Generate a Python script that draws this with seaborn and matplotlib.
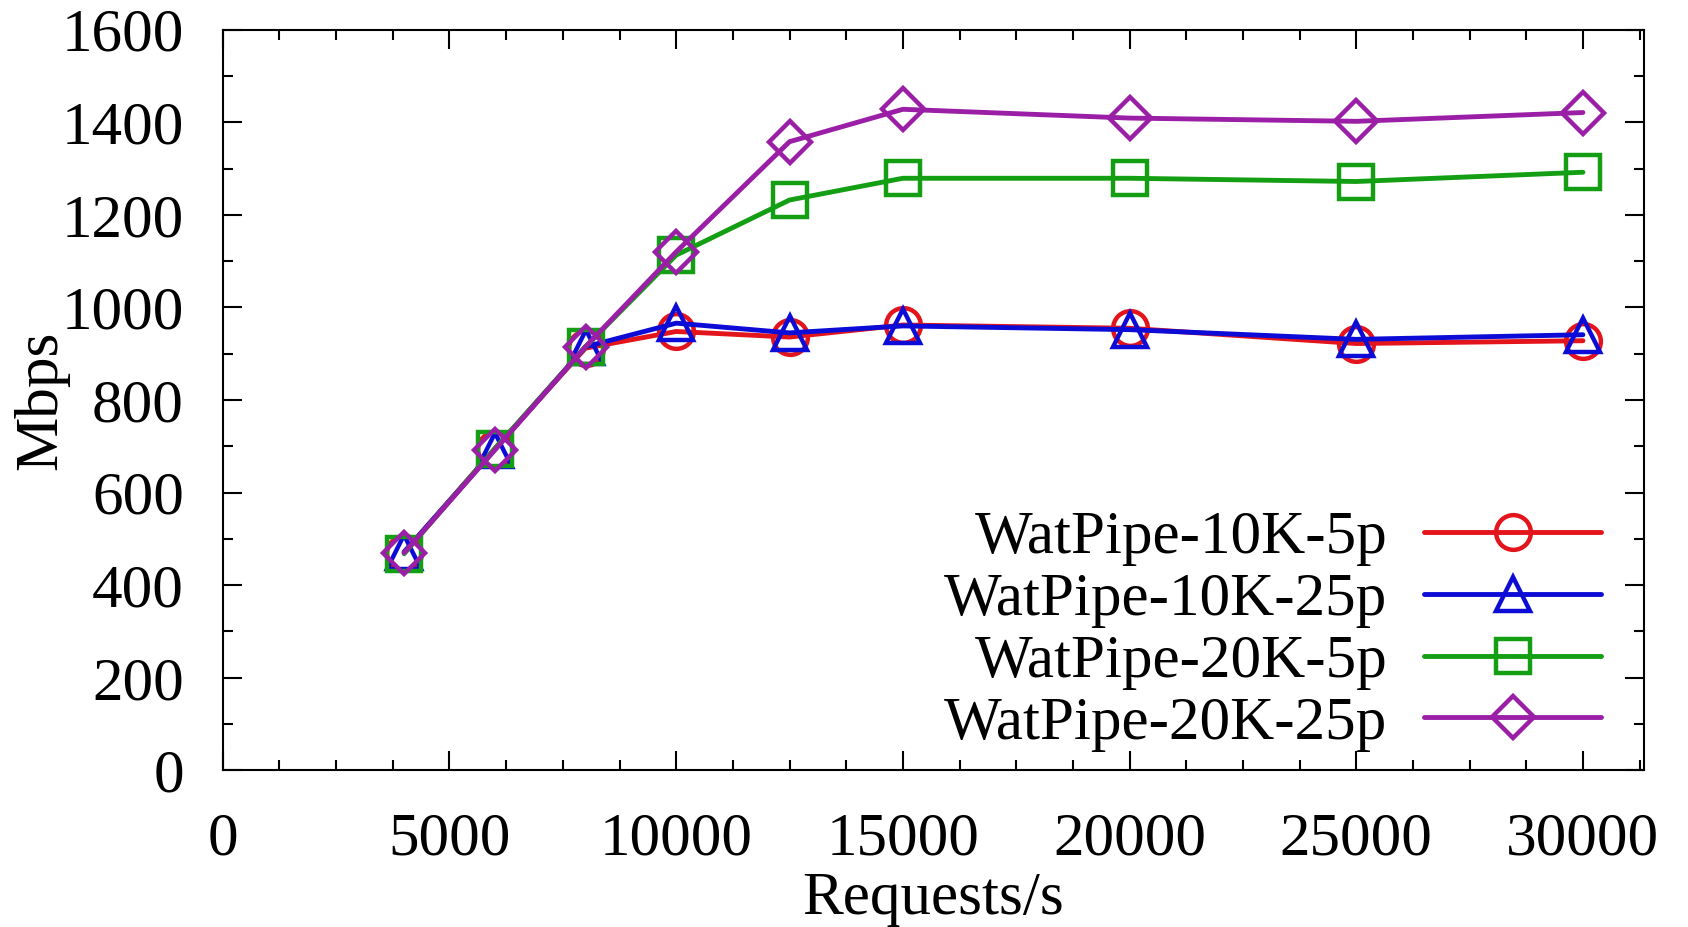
import pandas as pd
import matplotlib
matplotlib.use('Agg')
import matplotlib.pyplot as plt
from matplotlib.ticker import MultipleLocator
import seaborn as sns

# request rates (x) and throughput in Mbps for each configuration
requests = [4000, 6000, 8000, 10000, 12500, 15000, 20000, 25000, 30000]
wp_10k_5p = [470, 695, 912, 948, 936, 962, 955, 922, 928]
wp_10k_25p = [472, 693, 915, 966, 945, 960, 952, 931, 941]
wp_20k_5p = [468, 695, 915, 1113, 1232, 1279, 1279, 1272, 1292]
wp_20k_25p = [470, 692, 915, 1120, 1358, 1428, 1409, 1402, 1421]

series_names = ['WatPipe-10K-5p', 'WatPipe-10K-25p', 'WatPipe-20K-5p', 'WatPipe-20K-25p']
series_vals = [wp_10k_5p, wp_10k_25p, wp_20k_5p, wp_20k_25p]
colors = ['#e3141b', '#0c0cd6', '#139e13', '#9a1fa6']
markers = ['o', '^', 's', 'D']

rows = []
for name, vals in zip(series_names, series_vals):
    for x, y in zip(requests, vals):
        rows.append({'Requests/s': x, 'Mbps': y, 'config': name})
df = pd.DataFrame(rows)

sns.set_style('ticks')
plt.rcParams['font.family'] = ['Liberation Serif', 'DejaVu Serif']
plt.rcParams['text.color'] = 'black'
plt.rcParams['axes.labelcolor'] = 'black'
plt.rcParams['xtick.color'] = 'black'
plt.rcParams['ytick.color'] = 'black'
plt.rcParams['axes.edgecolor'] = 'black'

fig = plt.figure(figsize=(16.88, 9.27), dpi=100)
ax = fig.add_axes([0.132, 0.169, 0.842, 0.799])

for name, col, mk in zip(series_names, colors, markers):
    sub = df[df['config'] == name]
    sns.lineplot(data=sub, x='Requests/s', y='Mbps', ax=ax, color=col,
                 marker=mk, markersize=25 if mk != 'D' else 21,
                 markerfacecolor='none', markeredgecolor=col, markeredgewidth=3.2,
                 linewidth=3.5, label=name)

ax.set_xlim(0, 31350)
ax.set_ylim(0, 1600)
ax.xaxis.set_major_locator(MultipleLocator(5000))
ax.xaxis.set_minor_locator(MultipleLocator(1250))
ax.yaxis.set_major_locator(MultipleLocator(200))
ax.yaxis.set_minor_locator(MultipleLocator(100))
ax.tick_params(which='both', direction='in', top=True, right=True, width=1.5)
ax.tick_params(which='major', length=14, labelsize=44)
ax.tick_params(which='minor', length=7)
ax.tick_params(axis='x', which='major', pad=30)
ax.tick_params(axis='y', which='major', pad=28)
for sp in ax.spines.values():
    sp.set_linewidth(1.5)
    sp.set_visible(True)

ax.set_xlabel('Requests/s', fontsize=44, labelpad=0)
ax.set_ylabel('Mbps', fontsize=44, labelpad=0)
ax.xaxis.set_label_coords(0.5, -0.136)
ax.yaxis.set_label_coords(-0.108, 0.5)

leg = ax.legend(loc='lower right', markerfirst=False, frameon=False, fontsize=44,
                handlelength=2.9, labelspacing=0.1, handletextpad=0.6,
                borderaxespad=0.0, bbox_to_anchor=(0.987, -0.008))
for t in leg.get_texts():
    t.set_ha('right')
leg._legend_box.align = 'right'

fig.savefig('out.png', dpi=100)
